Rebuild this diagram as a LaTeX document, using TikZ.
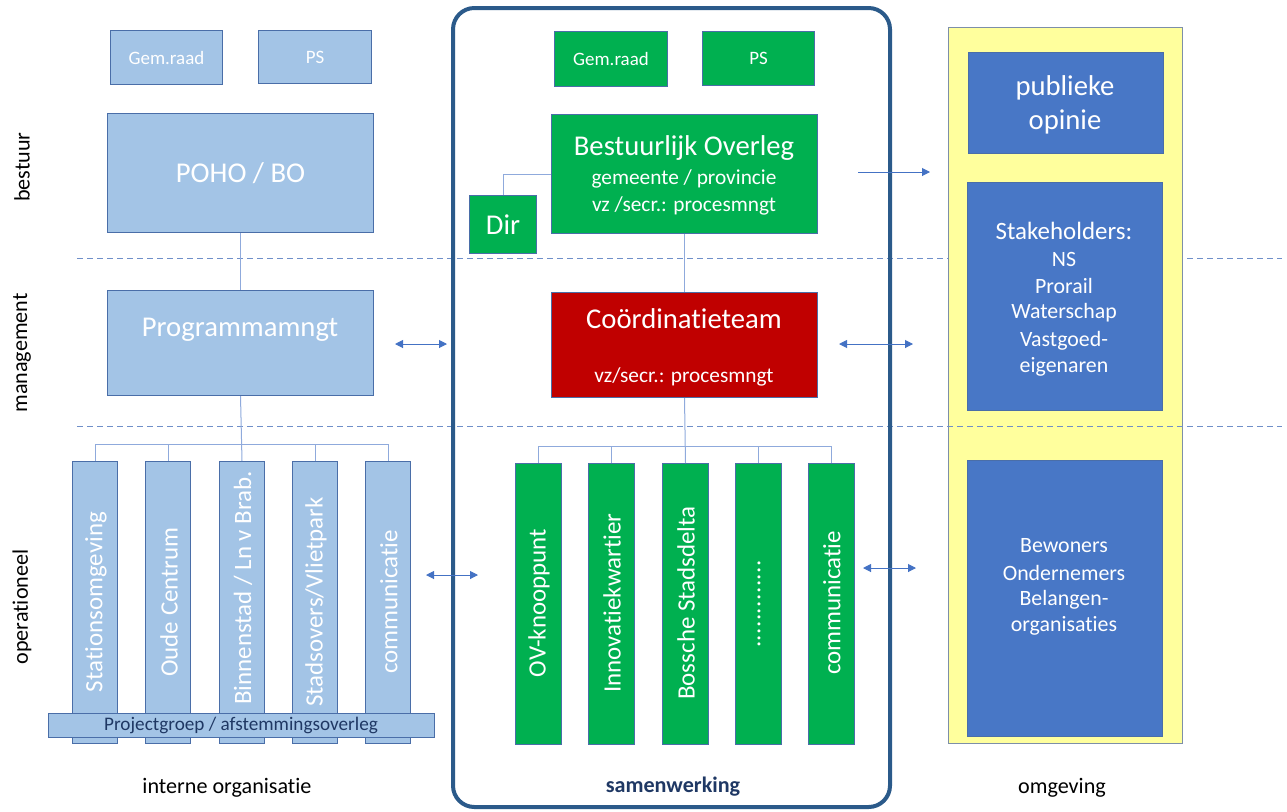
\documentclass[tikz,border=0pt]{standalone}
\usepackage{fontspec}
\setmainfont{Carlito}[Ligatures={NoCommon,NoContextual}]
\usetikzlibrary{arrows.meta}
\definecolor{lbfill}{HTML}{A3C4E6}
\definecolor{bordc}{HTML}{4A6EA8}
\definecolor{grfill}{HTML}{00B050}
\definecolor{rdfill}{HTML}{C00000}
\definecolor{rbfill}{HTML}{4877C6}
\definecolor{yefill}{HTML}{FFFF9D}
\definecolor{yebord}{HTML}{7D8FA8}
\definecolor{connc}{HTML}{8FAADC}
\definecolor{arrc}{HTML}{4472C4}
\definecolor{dashc}{HTML}{6F8FC9}
\definecolor{framec}{HTML}{2B5A8A}
\definecolor{navy}{HTML}{1F3864}
\newcommand\fsSmall{\fontsize{14.2}{17}\selectfont}
\newcommand\fsBig{\fontsize{21.5}{26}\selectfont}
\newcommand\fsSub{\fontsize{16}{19}\selectfont}
\newcommand\fsVert{\fontsize{18.7}{22}\selectfont}
\newcommand\fsProj{\fontsize{14.4}{17}\selectfont}
\newcommand\fsLab{\fontsize{16.6}{20}\selectfont}
\newcommand\fsRight{\fontsize{16.4}{20}\selectfont}
\newcommand\fsStake{\fontsize{18.7}{22}\selectfont}
\newcommand\onedot{\makebox[5.1pt]{.}}
\newcommand\dotrow{\onedot\onedot\onedot\onedot\onedot\onedot\onedot\onedot\onedot\onedot\onedot\onedot\onedot}
\newcommand\tI{t\kern0pt i}
\begin{document}
\begin{tikzpicture}[x=0.75pt,y=-0.75pt,
  boxbase/.style={draw=bordc, line width=0.75pt, anchor=north west, inner sep=0pt, text=white, align=center},
  lbbox/.style={boxbase, fill=lbfill},
  grbox/.style={boxbase, fill=grfill},
  rdbox/.style={boxbase, fill=rdfill},
  rbbox/.style={boxbase, fill=rbfill},
  txt/.style={inner sep=0pt, text=white, align=center},
  vtxt/.style={inner sep=0pt, text=white, rotate=90, font=\fsVert},
  lab/.style={inner sep=0pt, text=black, font=\fsLab},
  conn/.style={draw=connc, line width=0.75pt},
  arr/.style={draw=arrc, line width=0.75pt, -{Triangle[length=6pt,width=6pt]}},
  darr/.style={draw=arrc, line width=0.75pt, {Triangle[length=6pt,width=6pt]}-{Triangle[length=6pt,width=6pt]}},
  dashln/.style={draw=dashc, line width=0.75pt, dash pattern=on 4.5pt off 3pt}
]
\useasboundingbox (0,0) rectangle (1287,811);

% dashed separators
\coordinate (d1a) at (77,258);
\coordinate (d1b) at (1282,258);
\coordinate (d2a) at (77,426);
\coordinate (d2b) at (1282,426);
\draw[dashln] (d1a) -- (d1b);

% right column (yellow)
\node[boxbase, draw=yebord, fill=yefill, minimum width=234*.75pt, minimum height=716*.75pt] (yellow) at (948,27) {};
\draw[dashln] (d2a) -- (d2b);
\node[rbbox, minimum width=195*.75pt, minimum height=101*.75pt] (pub) at (968,52) {};
\node[txt, font=\fsBig] (pub1) at (1065,88) {publieke};
\node[txt, font=\fsBig] (pub2) at (1065,122) {opinie};
\node[rbbox, minimum width=195*.75pt, minimum height=228*.75pt] (stake) at (967,182) {};
\node[txt, font=\fsStake] (st1) at (1064,231) {Stakeholders:};
\node[txt, font=\fsRight] (st2) at (1064,259) {NS};
\node[txt, font=\fsRight] (st3) at (1064,286) {Prorail};
\node[txt, font=\fsRight] (st4) at (1064,313) {Waterschap};
\node[txt, font=\fsRight] (st5) at (1064,341) {Vastgoed-};
\node[txt, font=\fsRight] (st6) at (1064,367) {eigenaren};
\node[rbbox, minimum width=195*.75pt, minimum height=276*.75pt] (bew) at (967,460) {};
\node[txt, font=\fsRight] (bw1) at (1064,546) {Bewoners};
\node[txt, font=\fsRight] (bw2) at (1064,573) {Ondernemers};
\node[txt, font=\fsRight] (bw3) at (1064,600) {Belangen-};
\node[txt, font=\fsRight] (bw4) at (1064,626) {organisa\tI es};
\node[lab] (omg) at (1062,788) {omgeving};

% middle frame
\draw[framec, line width=3pt, rounded corners=16pt] (453,8) rectangle (890,807);
\node[grbox, minimum width=113*.75pt, minimum height=55*.75pt, font=\fsSmall] (gemM) at (554,31) {Gem.raad};
\node[grbox, minimum width=112*.75pt, minimum height=54*.75pt, font=\fsSmall] (psM) at (702,31) {PS};
\node[grbox, minimum width=266*.75pt, minimum height=119*.75pt] (bo) at (551,114) {};
\node[txt, font=\fsBig] (bo1) at (684,148) {Bestuurlijk Overleg};
\node[txt, font=\fsSub] (bo2) at (684,179) {gemeente / provincie};
\node[txt, font=\fsSub] (bo3) at (684,206) {vz /secr.: procesmngt};
\node[grbox, minimum width=67*.75pt, minimum height=58*.75pt, font=\fsBig] (dir) at (469,195) {Dir};
\node[rdbox, minimum width=266*.75pt, minimum height=105*.75pt] (coord) at (551,292) {};
\node[txt, font=\fsBig] (co1) at (684,319) {Coördina\tI eteam};
\node[txt, font=\fsSub] (co2) at (684,377) {vz/secr.: procesmngt};
\node[grbox, minimum width=46*.75pt, minimum height=281*.75pt] (gb1) at (515,463) {};
\node[grbox, minimum width=46*.75pt, minimum height=281*.75pt] (gb2) at (588,463) {};
\node[grbox, minimum width=46*.75pt, minimum height=281*.75pt] (gb3) at (662,463) {};
\node[grbox, minimum width=46*.75pt, minimum height=281*.75pt] (gb4) at (735,463) {};
\node[grbox, minimum width=46*.75pt, minimum height=281*.75pt] (gb5) at (808,463) {};
\node[vtxt] (gt1) at (539,603) {OV-knooppunt};
\node[vtxt] (gt2) at (612,603) {Innova\tI ekwar\tI er};
\node[vtxt] (gt3) at (686,603) {Bossche Stadsdelta};
\node[vtxt] (gt4) at (759,604) {\dotrow};
\node[vtxt] (gt5) at (832,603) {communica\tI e};
\node[inner sep=0pt, text=navy, font=\fsLab\bfseries] (samen) at (673,787) {samenwerking};

% middle connectors
\coordinate (busM) at (684,446);
\draw[conn] (bo.west) -| (dir.north);
\draw[conn] (bo.south) -- (coord.north);
\draw[conn] (coord.south) -- (gb3.north);
\draw[conn] (gb1.north) |- (busM) -| (gb5.north);
\draw[conn] (gb2.north) -- (gb2.north |- busM);
\draw[conn] (gb4.north) -- (gb4.north |- busM);

% left column
\node[lbbox, minimum width=112*.75pt, minimum height=54*.75pt, font=\fsSmall] (gemL) at (110,30) {Gem.raad};
\node[lbbox, minimum width=113*.75pt, minimum height=53*.75pt, font=\fsSmall] (psL) at (258,30) {PS};
\node[lbbox, minimum width=266*.75pt, minimum height=119*.75pt, font=\fsBig] (poho) at (107,113) {POHO / BO};
\node[lbbox, minimum width=266*.75pt, minimum height=105*.75pt] (prog) at (107,290) {};
\node[txt, font=\fsBig] (progt) at (240,330) {Programmamngt};
\node[lbbox, minimum width=45*.75pt, minimum height=282*.75pt] (lb1) at (72,461) {};
\node[lbbox, minimum width=45*.75pt, minimum height=282*.75pt] (lb2) at (145,461) {};
\node[lbbox, minimum width=45*.75pt, minimum height=282*.75pt] (lb3) at (219,461) {};
\node[lbbox, minimum width=45*.75pt, minimum height=282*.75pt] (lb4) at (292,461) {};
\node[lbbox, minimum width=45*.75pt, minimum height=282*.75pt] (lb5) at (365,461) {};
\node[vtxt] (lt1) at (96,602) {Sta\tI onsomgeving};
\node[vtxt] (lt2) at (169,602) {Oude Centrum};
\node[vtxt] (lt3) at (243,588) {Binnenstad / Ln v Brab.};
\node[vtxt] (lt4) at (316,602) {Stadsovers/Vlietpark};
\node[vtxt] (lt5) at (389,602) {communica\tI e};
\node[lbbox, minimum width=386*.75pt, minimum height=24*.75pt] (proj) at (48,713) {};
\node[inner sep=0pt, text=navy, font=\fsProj] (projt) at (241,725) {Projectgroep / afstemmingsoverleg};
\node[lab] (intern) at (227,788) {interne organisa\tI e};

% left connectors
\coordinate (busL) at (240,444);
\draw[conn] (poho.south) -- (prog.north);
\draw[conn] (prog.south) -- (lb3.north);
\draw[conn] (lb1.north) |- (busL) -| (lb5.north);
\draw[conn] (lb2.north) -- (lb2.north |- busL);
\draw[conn] (lb4.north) -- (lb4.north |- busL);

% row labels
\node[lab, rotate=90] (lbest) at (22,167) {bestuur};
\node[lab, rotate=90] (lman) at (22,353) {management};
\node[lab, rotate=90] (lope) at (22,607) {opera\tI oneel};

% arrows
\coordinate (a1s) at (858,172);
\coordinate (a1e) at (930,172);
\draw[arr] (a1s) -- (a1e);
\coordinate (a2s) at (395,344);
\coordinate (a2e) at (447,344);
\draw[darr] (a2s) -- (a2e);
\coordinate (a3s) at (839,344);
\coordinate (a3e) at (913,344);
\draw[darr] (a3s) -- (a3e);
\coordinate (a4s) at (426,575);
\coordinate (a4e) at (478,575);
\draw[darr] (a4s) -- (a4e);
\coordinate (a5s) at (863,568);
\coordinate (a5e) at (916,568);
\draw[darr] (a5s) -- (a5e);
\end{tikzpicture}
\end{document}
